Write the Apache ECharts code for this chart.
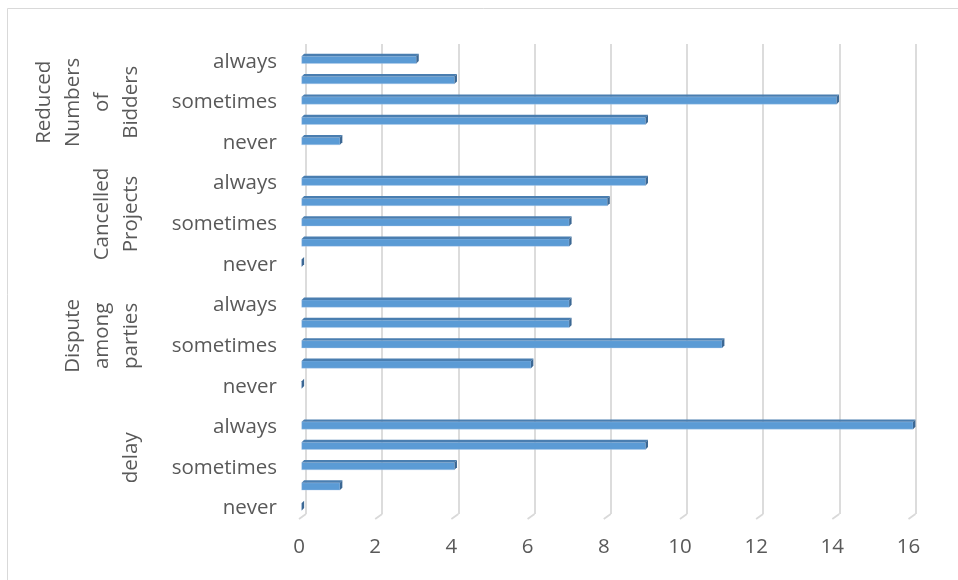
<!DOCTYPE html>
<html>
<head>
<meta charset="utf-8">
<script src="https://cdn.jsdelivr.net/npm/echarts@6/dist/echarts.min.js"></script>
<style>
  html, body { margin: 0; padding: 0; background: #ffffff; }
  #chart { width: 958px; height: 580px; }
</style>
</head>
<body>
<div id="chart"></div>
<script>
// Groups listed bottom to top, as they stack on the category axis
const groupNames = ['delay', 'Dispute\namong\nparties', 'Cancelled\nProjects', 'Reduced\nNumbers\nof\nBidders'];
// Response levels within each group, bottom to top (unlabelled rows are blank)
const levelLabels = ['never', '', 'sometimes', '', 'always'];

// Counts per level, bottom to top
const delayCounts = [0, 1, 4, 9, 16];
const disputeCounts = [0, 6, 11, 7, 7];
const cancelledCounts = [0, 7, 7, 8, 9];
const biddersCounts = [1, 9, 14, 4, 3];
const groupCounts = [delayCounts, disputeCounts, cancelledCounts, biddersCounts];

// Value axis range and tick step
const xMin = 0;
const xMax = 16;
const xStep = 2;

// Build the row list: five levels per group, one spacer row between groups
const rowLabels = [];
const barData = [];
const groupCenters = [];
let row = 0;
groupNames.forEach((name, gi) => {
  const start = row;
  levelLabels.forEach((lv, k) => {
    rowLabels.push(lv);
    barData.push([groupCounts[gi][k], row]);
    row++;
  });
  if (gi < groupNames.length - 1) {
    rowLabels.push('');
    row++;
  }
  groupCenters.push({ name: name, pos: (start + row - 1) / 2 });
});
const rowIds = rowLabels.map((_, i) => 'r' + i);
const tickValues = [];
for (let v = xMin; v <= xMax; v += xStep) tickValues.push(v);

const textColor = '#595959';
const fontFamily = '"Open Sans", sans-serif';
const fontSize = 20.5;
const gridColor = '#d9d9d9';

const chart = echarts.init(document.getElementById('chart'), null, { renderer: 'canvas' });

chart.setOption({
  backgroundColor: '#ffffff',
  animation: false,
  graphic: [{
    type: 'rect',
    shape: { x: 7.5, y: 8.5, width: 1000, height: 1000 },
    style: { fill: 'none', stroke: '#d9d9d9', lineWidth: 1 },
    silent: true,
    z: -10
  }],
  grid: [
    // bars
    { left: 301.7, right: 45, top: 48.5, bottom: 64.3, outerBoundsMode: 'none' },
    // back wall gridlines
    { left: 306, right: 42.5, top: 44, bottom: 66, outerBoundsMode: 'none' },
    // front plane labels
    { left: 299, right: 49.5, top: 51.5, bottom: 61.3, outerBoundsMode: 'none' }
  ],
  xAxis: [
    { gridIndex: 0, type: 'value', min: xMin, max: xMax, interval: xStep, show: false },
    {
      gridIndex: 1, type: 'value', min: xMin, max: xMax, interval: xStep,
      axisLine: { show: false }, axisTick: { show: false }, axisLabel: { show: false },
      splitLine: { show: true, lineStyle: { color: gridColor, width: 1.8 } }
    },
    {
      gridIndex: 2, type: 'value', min: xMin, max: xMax, interval: xStep,
      axisLine: { show: false }, axisTick: { show: false }, splitLine: { show: false },
      axisLabel: { color: textColor, fontFamily: fontFamily, fontSize: fontSize, margin: 18 }
    }
  ],
  yAxis: [
    { gridIndex: 0, type: 'category', data: rowIds, show: false },
    { gridIndex: 1, type: 'value', min: 0, max: 1, show: false },
    {
      gridIndex: 2, type: 'category', data: rowIds, position: 'left',
      axisLine: { show: false }, axisTick: { show: false }, splitLine: { show: false },
      axisLabel: {
        interval: 0, margin: 22, color: textColor, fontFamily: fontFamily, fontSize: fontSize,
        formatter: (v, i) => rowLabels[i]
      }
    },
    {
      gridIndex: 2, type: 'value', position: 'left',
      min: -0.5, max: rowLabels.length - 0.5, interval: 0.5,
      axisLine: { show: false }, axisTick: { show: false }, splitLine: { show: false },
      axisLabel: {
        rotate: 90, margin: 153, lineHeight: 29,
        color: textColor, fontFamily: fontFamily, fontSize: fontSize,
        showMinLabel: true, showMaxLabel: true,
        formatter: (v) => {
          const g = groupCenters.find(c => Math.abs(c.pos - v) < 1e-6);
          return g ? g.name : '';
        }
      }
    }
  ],
  series: [
    {
      // short perspective stubs at the foot of each gridline
      type: 'custom',
      xAxisIndex: 1, yAxisIndex: 1,
      clip: false, silent: true, z: 1,
      data: tickValues,
      renderItem: (params, api) => {
        const p = api.coord([api.value(0), 0]);
        return {
          type: 'line',
          shape: { x1: p[0], y1: p[1], x2: p[0] - 7, y2: p[1] + 5 },
          style: { stroke: gridColor, lineWidth: 1.8 }
        };
      }
    },
    {
      // 3-D style horizontal bars: front face, top face and end cap
      type: 'custom',
      xAxisIndex: 0, yAxisIndex: 0,
      clip: false, z: 5,
      encode: { x: 0, y: 1 },
      data: barData,
      renderItem: (params, api) => {
        const val = api.value(0);
        const r = api.value(1);
        const a = api.coord([0, r]);
        const b = api.coord([val, r]);
        const slot = api.size([0, 1])[1];
        const h = slot * 0.36;
        const d = slot * 0.12;
        const yTop = a[1] - h / 2 + d / 2;
        const yBot = yTop + h;
        const x0 = a[0], x1 = b[0];
        return {
          type: 'group',
          children: [
            {
              type: 'rect',
              shape: { x: x0, y: yTop, width: Math.max(0, x1 - x0), height: h },
              style: { fill: '#5b9bd5', stroke: 'rgba(180,205,235,0.6)', lineWidth: 0.6 }
            },
            {
              type: 'polygon',
              shape: { points: [[x0, yTop], [x1, yTop], [x1 + d, yTop - d], [x0 + d, yTop - d]] },
              style: { fill: '#4a7eb0' }
            },
            {
              type: 'polygon',
              shape: { points: [[x1, yTop], [x1 + d, yTop - d], [x1 + d, yBot - d], [x1, yBot]] },
              style: { fill: '#3c6894' }
            }
          ]
        };
      }
    }
  ]
});
</script>
</body>
</html>
